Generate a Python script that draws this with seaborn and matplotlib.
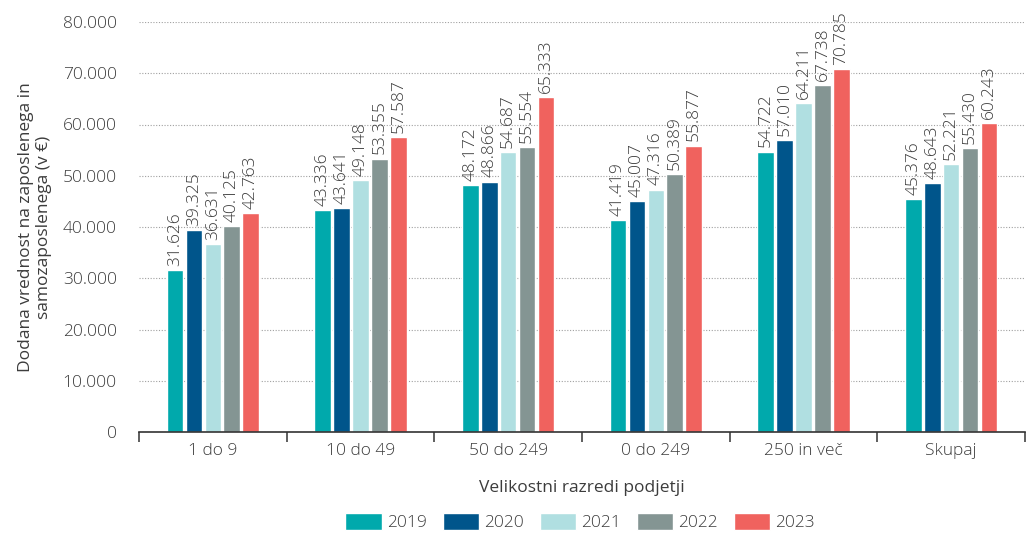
import matplotlib
matplotlib.use("Agg")
import matplotlib.pyplot as plt
import seaborn as sns
import pandas as pd
import numpy as np
from matplotlib.ticker import FixedLocator, FuncFormatter

categories = ["1 do 9", "10 do 49", "50 do 249", "0 do 249", "250 in več", "Skupaj"]
years = ["2019", "2020", "2021", "2022", "2023"]
v2019 = [31626, 43336, 48172, 41419, 54722, 45376]
v2020 = [39325, 43641, 48866, 45007, 57010, 48643]
v2021 = [36631, 49148, 54687, 47316, 64211, 52221]
v2022 = [40125, 53355, 55554, 50389, 67738, 55430]
v2023 = [42763, 57587, 65333, 55877, 70785, 60243]
colors = ["#00A9AC", "#00558B", "#B0DFE1", "#849593", "#F0625E"]

rows = []
for y, vals in zip(years, [v2019, v2020, v2021, v2022, v2023]):
    for c, v in zip(categories, vals):
        rows.append({"cat": c, "year": y, "val": v})
df = pd.DataFrame(rows)

sns.set_theme(style="white")
plt.rcParams['font.family'] = ['Open Sans', 'DejaVu Sans']
plt.rcParams['font.weight'] = 'light'
txt = "#3c3c3c"

fig = plt.figure(figsize=(10.26, 5.34), dpi=100)
ax = fig.add_axes([139/1026, 1-432/534, (1025-139)/1026, (432-22)/534])

sns.barplot(data=df, x="cat", y="val", hue="year", palette=colors,
            order=categories, hue_order=years, width=0.64, gap=0.12,
            ax=ax, legend=True, saturation=1)

def fmt(v):
    return f"{int(v):,}".replace(",", ".")

for cont in ax.containers:
    labels = [fmt(b.get_height()) for b in cont]
    ax.bar_label(cont, labels=labels, rotation=90, padding=3, fontsize=12.5,
                 color=txt, fontweight="light")

ax.set_xlim(-0.5, 5.5)
ax.set_ylim(0, 80000)
ax.set_yticks(np.arange(0, 80001, 10000))
ax.yaxis.set_major_formatter(FuncFormatter(lambda v, p: "0" if v == 0 else fmt(v)))
ax.grid(axis="y", color="#a0a0a0", linestyle=(0, (1, 1.5)), linewidth=0.8)
ax.set_axisbelow(True)
for s in ["top", "right", "left"]:
    ax.spines[s].set_visible(False)
ax.spines["bottom"].set_color("#333333")
ax.spines["bottom"].set_linewidth(1.2)
ax.tick_params(axis="y", length=0, labelsize=12.5, labelcolor=txt, pad=16)
ax.tick_params(axis="x", which="major", length=0, labelsize=12.5, labelcolor=txt, pad=8)
ax.xaxis.set_minor_locator(FixedLocator(np.arange(-0.5, 6, 1)))
ax.tick_params(axis="x", which="minor", length=7, width=1.1, color="#333333", bottom=True)

ax.set_xlabel("Velikostni razredi podjetji", fontsize=12.5, color=txt, labelpad=15)
ax.set_ylabel("Dodana vrednost na zaposlenega in\nsamozaposlenega (v €)", fontsize=12.5,
              color=txt, labelpad=8, linespacing=1.1)

ax.legend(loc="upper center", bbox_to_anchor=(0.498, -0.176), ncol=5, frameon=False,
          fontsize=12.5, handlelength=2.1, handleheight=1.1, handletextpad=0.3,
          columnspacing=0.9, labelcolor=txt, borderpad=0)

fig.savefig("out.png", dpi=100)
